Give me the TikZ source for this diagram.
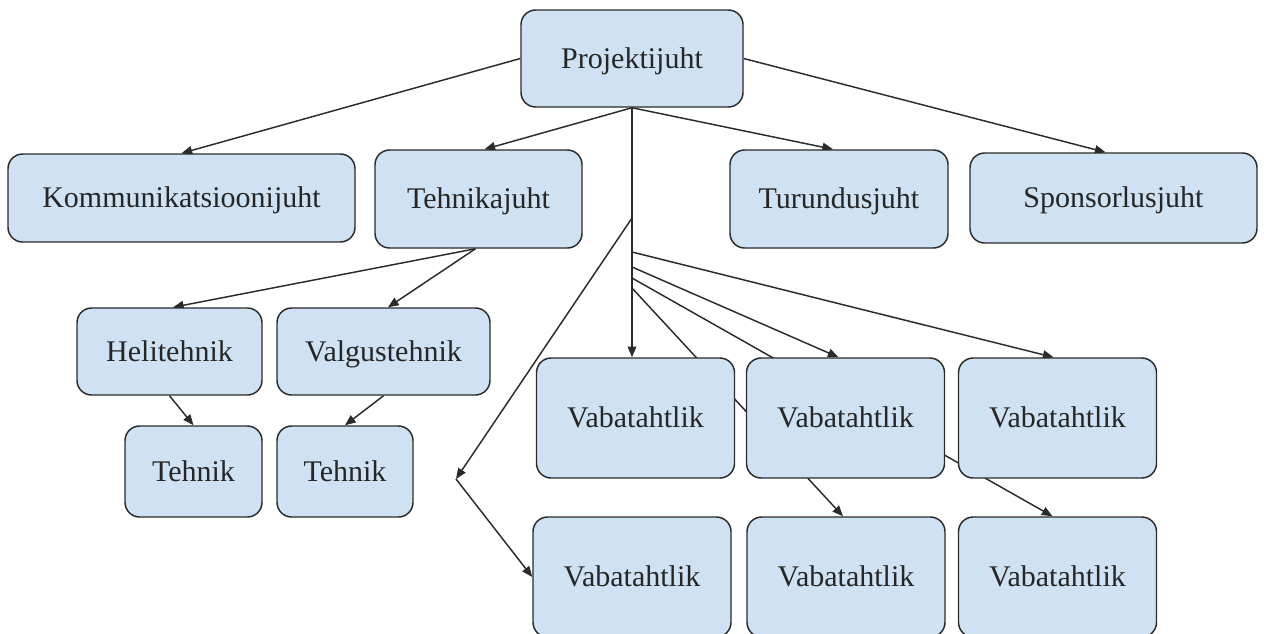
\documentclass[tikz,border=0pt]{standalone}
\usepackage{fontspec}
\setmainfont{Liberation Serif}
\usetikzlibrary{arrows.meta,calc}
\pgfdeclarelayer{background}
\pgfsetlayers{background,main}
\definecolor{boxfill}{HTML}{CFE2F3}
\definecolor{boxline}{HTML}{2B2B2B}
\definecolor{txt}{HTML}{262626}
\begin{document}
\begin{tikzpicture}[x=0.75pt,y=-0.75pt,
  box/.style={draw=boxline,fill=boxfill,line width=1.1pt,rounded corners=11pt,text=txt,font=\fontsize{22.5}{26}\selectfont,inner sep=0pt,text height=14.9pt,text depth=0pt},
  vab/.style={box,minimum width=148.5pt,minimum height=90pt},
  conn/.style={draw=boxline,line width=1.1pt,-{Triangle[length=8pt,width=6.5pt]}},
  plainline/.style={draw=boxline,line width=1.1pt}]
\useasboundingbox (0,0) rectangle (1264,633);
\node[box,minimum width=166.5pt,minimum height=72.75pt] (P) at (632,58.5) {Projektijuht};
\node[box,minimum width=260.25pt,minimum height=66pt] (K) at (181.5,198) {Kommunikatsioonijuht};
\node[box,minimum width=155.25pt,minimum height=73.5pt] (T) at (478.5,199) {Tehnikajuht};
\node[box,minimum width=163.5pt,minimum height=73.5pt] (Tu) at (839,199) {Turundusjuht};
\node[box,minimum width=215.25pt,minimum height=67.5pt] (S) at (1113.5,198) {Sponsorlusjuht};
\node[box,minimum width=138.75pt,minimum height=65.25pt] (H) at (169.5,351.5) {Helitehnik};
\node[box,minimum width=159.75pt,minimum height=65.25pt] (V) at (383.5,351.5) {Valgustehnik};
\node[box,minimum width=102.75pt,minimum height=68.25pt] (T1) at (193.5,471.5) {Tehnik};
\node[box,minimum width=102pt,minimum height=68.25pt] (T2) at (345,471.5) {Tehnik};
\node[vab] (V1) at (635.5,418) {Vabatahtlik};
\node[vab] (V2) at (845.5,418) {Vabatahtlik};
\node[vab] (V3) at (1057.5,418) {Vabatahtlik};
\node[vab] (V4) at (632,577) {Vabatahtlik};
\node[vab] (V5) at (846,577) {Vabatahtlik};
\node[vab] (V6) at (1057.5,577) {Vabatahtlik};
\coordinate (c1) at (632,218);
\coordinate (c2) at (632,252);
\coordinate (c3) at (632,267);
\coordinate (c4) at (632,278);
\coordinate (c5) at (632,288);
\coordinate (bend) at (456,479);
\coordinate (ts) at ($(T.south)+(-3,0)$);
\begin{pgfonlayer}{background}
\draw[conn] (P.west) -- (K.north);
\draw[conn] (P.south) -- ($(T.north)+(6,0)$);
\draw[conn] (P.south) -- ($(Tu.north)+(-6,0)$);
\draw[conn] (P.east) -- ($(S.north)+(-8,0)$);
\draw[conn] (ts) -- ($(H.north)+(3.5,0)$);
\draw[conn] (ts) -- ($(V.north)+(4.5,0)$);
\draw[conn] (H.south) -- (T1.north);
\draw[conn] (V.south) -- (T2.north);
\draw[conn] (P.south) -- (P.south |- V1.north);
\draw[conn] (c1) -- (bend);
\draw[conn] (bend) -- (V4.west);
\draw[conn] (c2) -- ($(V3.north)+(-4,0)$);
\draw[conn] (c3) -- ($(V2.north)+(-7,0)$);
\draw[conn] (c4) -- ($(V6.north)+(-5,0)$);
\draw[conn] (c5) -- ($(V5.north)+(-3,0)$);
\end{pgfonlayer}
\end{tikzpicture}
\end{document}
